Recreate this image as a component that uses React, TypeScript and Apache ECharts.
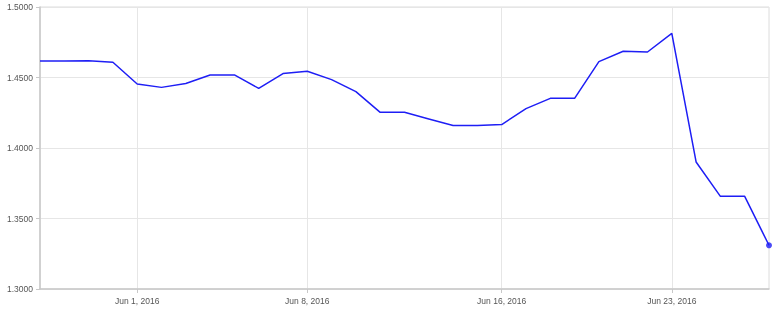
import React, { useEffect, useRef } from "react";
import * as echarts from "echarts";

const dates: string[] = [
  "2016-05-28", "2016-05-29", "2016-05-30", "2016-05-31", "2016-06-01",
  "2016-06-02", "2016-06-03", "2016-06-04", "2016-06-05", "2016-06-06",
  "2016-06-07", "2016-06-08", "2016-06-09", "2016-06-10", "2016-06-11",
  "2016-06-12", "2016-06-13", "2016-06-14", "2016-06-15", "2016-06-16",
  "2016-06-17", "2016-06-18", "2016-06-19", "2016-06-20", "2016-06-21",
  "2016-06-22", "2016-06-23", "2016-06-24", "2016-06-25", "2016-06-26",
  "2016-06-27",
];

const rates: number[] = [
  1.4617, 1.4617, 1.4618, 1.4608, 1.4454, 1.4430, 1.4457, 1.4518, 1.4518, 1.4423,
  1.4528, 1.4544, 1.4485, 1.4400, 1.4253, 1.4253, 1.4206, 1.4159, 1.4159, 1.4166,
  1.4279, 1.4352, 1.4352, 1.4613, 1.4686, 1.4681, 1.4813, 1.3901, 1.3657, 1.3657,
  1.3310,
];

const tickDates: string[] = ["2016-06-01", "2016-06-08", "2016-06-16", "2016-06-23"];
const tickLabels: string[] = ["Jun 1, 2016", "Jun 8, 2016", "Jun 16, 2016", "Jun 23, 2016"];

const yMin = 1.3;
const yMax = 1.5;
const yStep = 0.05;

export default function App() {
  const ref = useRef<HTMLDivElement>(null);
  useEffect(() => {
    if (!ref.current) return;
    const chart = echarts.init(ref.current, undefined, { renderer: "svg" });
    const isTick = (i: number) => tickDates.includes(dates[i]);
    const font = "'Liberation Sans', Arial, Helvetica, sans-serif";
    const last = dates.length - 1;
    chart.setOption({
      animation: false,
      grid: {
        left: 40,
        right: 11,
        top: 7,
        bottom: 23,
        show: true,
        borderColor: "#dcdcdc",
        borderWidth: 1,
      },
      xAxis: {
        type: "category",
        data: dates,
        boundaryGap: false,
        axisLine: { lineStyle: { color: "#c8c8c8", width: 1.5 } },
        axisTick: {
          show: true,
          length: 4,
          interval: (i: number) => isTick(i),
          lineStyle: { color: "#c8c8c8" },
        },
        axisLabel: {
          interval: (i: number) => isTick(i),
          formatter: (v: string) => {
            const k = tickDates.indexOf(v);
            return k >= 0 ? tickLabels[k] : "";
          },
          color: "#555",
          fontSize: 8.5,
          fontFamily: font,
          margin: 7,
        },
        splitLine: {
          show: true,
          interval: (i: number) => isTick(i),
          lineStyle: { color: "#e6e6e6", width: 1 },
        },
      },
      yAxis: {
        type: "value",
        min: yMin,
        max: yMax,
        interval: yStep,
        axisLine: { show: true, lineStyle: { color: "#c8c8c8", width: 1.5 } },
        axisTick: { show: true, length: 4, lineStyle: { color: "#c8c8c8" } },
        axisLabel: {
          formatter: (v: number) => v.toFixed(4),
          color: "#555",
          fontSize: 8.5,
          fontFamily: font,
          margin: 7,
          showMaxLabel: true,
        },
        splitLine: { show: true, lineStyle: { color: "#e6e6e6", width: 1 } },
      },
      series: [
        {
          type: "line",
          data: rates,
          showSymbol: false,
          symbol: "none",
          lineStyle: { color: "#1e1ef5", width: 1.5 },
          itemStyle: { color: "#1e1ef5" },
        },
        {
          type: "scatter",
          data: [[dates[last], rates[last]]],
          symbol: "circle",
          symbolSize: 6,
          itemStyle: { color: "#1e1ef5" },
        },
      ],
    });
    return () => chart.dispose();
  }, []);
  return (
    <div
      ref={ref}
      style={{ position: "fixed", left: 0, top: 0, width: 780, height: 312 }}
    />
  );
}
